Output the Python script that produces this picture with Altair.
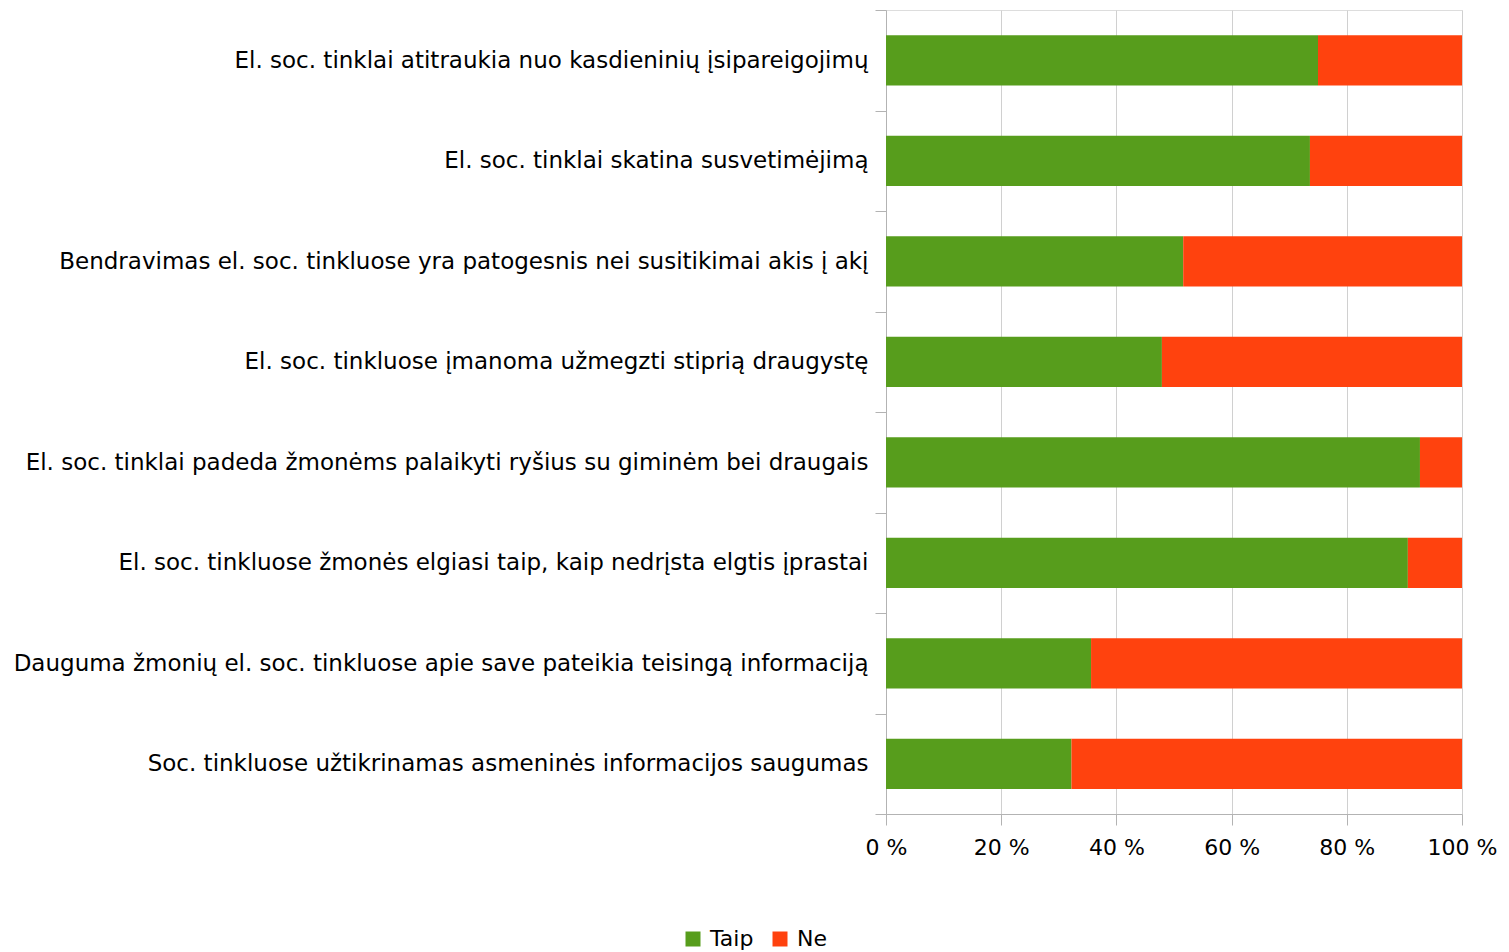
import altair as alt
import pandas as pd

categories = [
    "El. soc. tinklai atitraukia nuo kasdieninių įsipareigojimų",
    "El. soc. tinklai skatina susvetimėjimą",
    "Bendravimas el. soc. tinkluose yra patogesnis nei susitikimai akis į akį",
    "El. soc. tinkluose įmanoma užmegzti stiprią draugystę",
    "El. soc. tinklai padeda žmonėms palaikyti ryšius su giminėm bei draugais",
    "El. soc. tinkluose žmonės elgiasi taip, kaip nedrįsta elgtis įprastai",
    "Dauguma žmonių el. soc. tinkluose apie save pateikia teisingą informaciją",
    "Soc. tinkluose užtikrinamas asmeninės informacijos saugumas",
]
taip = [75.0, 73.6, 51.6, 47.9, 92.7, 90.6, 35.6, 32.2]
ne = [25.0, 26.4, 48.4, 52.1, 7.3, 9.4, 64.4, 67.8]
series = ["Taip", "Ne"]
colors = ["#579d1c", "#ff420e"]

rows = []
for c, t, n in zip(categories, taip, ne):
    rows.append({"cat": c, "series": "Taip", "val": t, "ord": 0})
    rows.append({"cat": c, "series": "Ne", "val": n, "ord": 1})
df = pd.DataFrame(rows)

FONT = "DejaVu Sans"

chart = alt.Chart(df).mark_bar(height=alt.RelativeBandSize(band=0.5)).encode(
    y=alt.Y("cat:N", sort=categories, title=None,
            scale=alt.Scale(paddingInner=0, paddingOuter=0),
            axis=alt.Axis(grid=False, tickBand="extent", domainColor="#b3b3b3",
                          tickColor="#b3b3b3", tickSize=11,
                          labelPadding=7,
                          labelFontSize=23, labelFont=FONT, labelColor="#000000",
                          labelLimit=0)),
    x=alt.X("val:Q", stack="zero", title=None,
            scale=alt.Scale(domain=[0, 100], nice=False),
            axis=alt.Axis(values=[0, 20, 40, 60, 80, 100],
                          labelExpr="datum.value + ' %'", labelFlush=False,
                          grid=True, gridColor="#d0d0d0", domainColor="#b3b3b3",
                          tickColor="#b3b3b3", tickSize=11, labelPadding=12,
                          labelFontSize=22, labelFont=FONT, labelColor="#000000")),
    color=alt.Color("series:N", sort=series,
                    scale=alt.Scale(domain=series, range=colors),
                    legend=alt.Legend(title=None, orient="none", direction="horizontal",
                                      legendX=-204, legendY=918,
                                      symbolType="square", symbolSize=225,
                                      symbolStrokeWidth=0, symbolOpacity=1,
                                      labelFontSize=22, labelFont=FONT,
                                      labelColor="#000000", labelOffset=6,
                                      columnPadding=15)),
    order=alt.Order("ord:Q"),
).properties(
    width=576, height=804,
    autosize=alt.AutoSizeParams(type="none"),
    padding={"left": 878, "top": 2, "right": 39, "bottom": 150},
).configure_view(stroke="#b3b3b3").configure(background="white")

chart.save("out.html", embed_options={"renderer": "svg", "actions": False})
